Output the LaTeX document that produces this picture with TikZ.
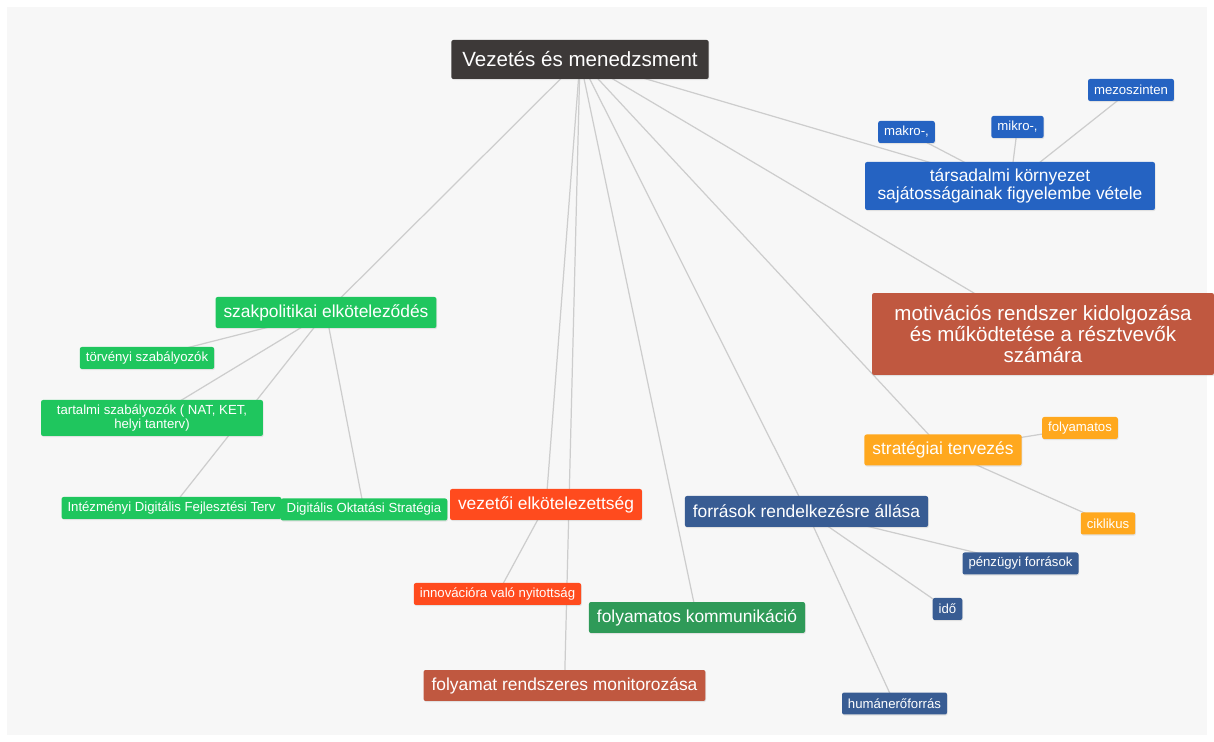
\documentclass[tikz,border=0pt]{standalone}
\usepackage{fontspec}
\setmainfont{Liberation Sans}
\usepackage{xcolor}
\usetikzlibrary{backgrounds,shadows}
\definecolor{rootgray}{HTML}{3D3938}
\definecolor{socblue}{HTML}{2563C2}
\definecolor{brick}{HTML}{C05840}
\definecolor{brightgreen}{HTML}{1FC65E}
\definecolor{redorange}{HTML}{FF4B1E}
\definecolor{darkgreen}{HTML}{2F9A58}
\definecolor{navy}{HTML}{385C93}
\definecolor{amber}{HTML}{FFA81E}
\definecolor{panelgray}{HTML}{F7F7F7}
\definecolor{linegray}{HTML}{CDCDCD}

\tikzset{
    mapbox/.style={rounded corners=1.2pt, text=white, inner ysep=0pt,
        drop shadow={shadow xshift=0.4pt, shadow yshift=-0.6pt, opacity=0.18}},
    bignode/.style={mapbox, font=\fontsize{11.7}{12}\selectfont,
        minimum height=0.78cm, inner xsep=0.22cm},
    midnode/.style={mapbox, font=\fontsize{9.9}{10.2}\selectfont,
        minimum height=0.62cm, inner xsep=0.16cm},
    smallnode/.style={mapbox, font=\fontsize{7.5}{8.5}\selectfont,
        minimum height=0.44cm, inner xsep=0.12cm},
    branch/.style={draw=linegray, line width=0.7pt}
}

\begin{document}
\begin{tikzpicture}[x=0.02cm, y=-0.02cm]
    \useasboundingbox (0,0) rectangle (1214,742);

    % Root
    \node [bignode, fill=rootgray] (root) at (580,59.5) {Vezetés és menedzsment};

    % Social environment
    \node [midnode,
        fill=socblue,
        align=center,
        minimum width=5.8cm,
        minimum height=0.96cm] (tars) at (1010,186)
        {társadalmi környezet\\sajátosságainak figyelembe vétele};
    \node [smallnode, fill=socblue] (makro) at (906.5,132) {makro-,};
    \node [smallnode, fill=socblue] (mikro) at (1017.5,127) {mikro-,};
    \node [smallnode, fill=socblue] (mezo) at (1131,90) {mezoszinten};

    % Motivation
    \node [bignode,
        fill=brick,
        align=center,
        minimum width=6.84cm,
        minimum height=1.64cm] (motiv) at (1043,334)
        {motivációs rendszer kidolgozása\\és működtetése a résztvevők\\számára};

    % Policy commitment
    \node [midnode, fill=brightgreen] (szak) at (326,312.5) {szakpolitikai elköteleződés};
    \node [smallnode, fill=brightgreen] (torv) at (147,358) {törvényi szabályozók};
    \node [smallnode,
        fill=brightgreen,
        align=center,
        minimum width=4.44cm,
        minimum height=0.72cm] (tart) at (152,418)
        {tartalmi szabályozók ( NAT, KET,\\helyi tanterv)};
    \node [smallnode, fill=brightgreen] (intez) at (171.5,508) {Intézményi Digitális Fejlesztési Terv};
    \node [smallnode, fill=brightgreen] (digokt) at (364,509.5) {Digitális Oktatási Stratégia};

    % Leadership commitment
    \node [midnode, fill=redorange] (vezetoi) at (546,504.5) {vezetői elkötelezettség};
    \node [smallnode, fill=redorange] (innov) at (497.5,594) {innovációra való nyitottság};

    % Communication and monitoring
    \node [midnode, fill=darkgreen] (komm) at (697,617.5) {folyamatos kommunikáció};
    \node [midnode, fill=brick] (monit) at (564.5,685.5) {folyamat rendszeres monitorozása};

    % Resources
    \node [midnode, fill=navy] (forras) at (806.5,511.5) {források rendelkezésre állása};
    \node [smallnode, fill=navy] (penz) at (1020.5,563.5) {pénzügyi források};
    \node [smallnode, fill=navy] (ido) at (947.5,609) {idő};
    \node [smallnode, fill=navy] (human) at (894.5,703.5) {humánerőforrás};

    % Strategic planning
    \node [midnode, fill=amber] (strat) at (943,450) {stratégiai tervezés};
    \node [smallnode, fill=amber] (folyam) at (1080,428) {folyamatos};
    \node [smallnode, fill=amber] (cikl) at (1108,523.5) {ciklikus};

    % Panel and branches
    \begin{scope}[on background layer]
        \fill[panelgray] (7,7) rectangle (1207,735);
        \foreach \from/\to in {root/tars, root/motiv, root/szak, root/vezetoi,
                root/monit, root/komm, root/forras, root/strat,
                tars/makro, tars/mikro, tars/mezo,
                szak/torv, szak/tart, szak/intez, szak/digokt,
                vezetoi/innov,
                forras/penz, forras/ido, forras/human,
                strat/folyam, strat/cikl}
            \draw[branch] (\from.center) -- (\to.center);
    \end{scope}
\end{tikzpicture}
\end{document}
